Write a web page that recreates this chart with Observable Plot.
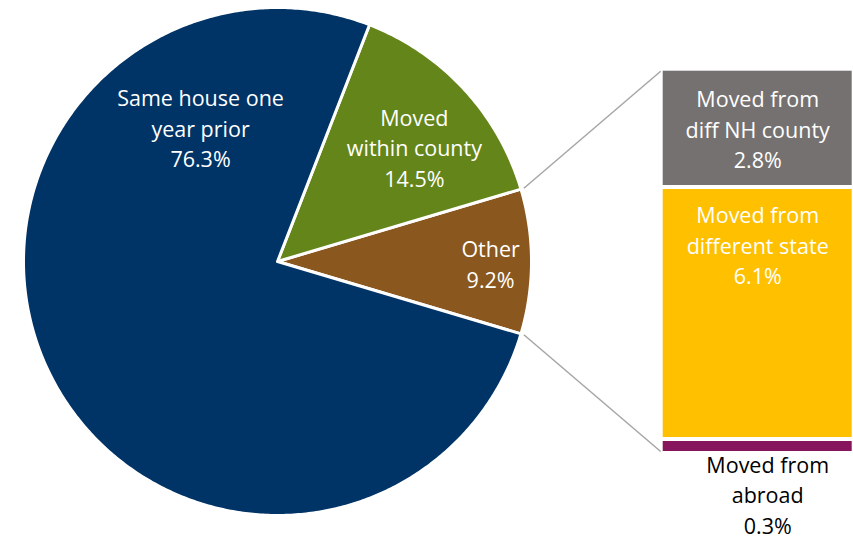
<!DOCTYPE html>
<html>
<head>
<meta charset="utf-8">
<script src="https://cdn.jsdelivr.net/npm/d3@7"></script>
<script src="https://cdn.jsdelivr.net/npm/@observablehq/plot@0.6"></script>
<style>
  html, body { margin: 0; padding: 0; background: #ffffff; }
  #chart { width: 853px; height: 536px; overflow: hidden; }
</style>
</head>
<body>
<div id="chart"></div>
<script>
// ---- Data ----
const pieCategories = ["Same house one year prior", "Moved within county", "Other"];
const pieValues = [76.3, 14.5, 9.2];
const pieLabels = ["Same house one\nyear prior\n76.3%", "Moved\nwithin county\n14.5%", "Other\n9.2%"];
const pieColors = ["#003366", "#648519", "#8A571E"];

const barCategories = ["Moved from diff NH county", "Moved from different state", "Moved from abroad"];
const barValues = [2.8, 6.1, 0.3];
const barLabels = ["Moved from\ndiff NH county\n2.8%", "Moved from\ndifferent state\n6.1%", "Moved from\nabroad\n0.3%"];
const barColors = ["#767171", "#FFC000", "#86155E"];
const barLabelColors = ["#ffffff", "#ffffff", "#000000"];

// ---- Layout (units: pie radius = 1) ----
const W = 853, H = 536;
const cx = 277, cy = 261, R = 254; // pixel centre & radius of pie
const xDomain = [-cx / R, (W - cx) / R];
const yDomain = [(cy - H) / R, cy / R];
const barX1 = (662.7 - cx) / R, barX2 = (851.7 - cx) / R;
const barTop = (cy - 70.7) / R, barBottom = (cy - 451) / R;
// label anchors for pie slices (units)
const pieLabelPos = [[-0.303, 0.530], [0.539, 0.452], [0.839, -0.005]];

// ---- Pie geometry ----
const total = d3.sum(pieValues);
const otherIdx = 2;
const half = pieValues[otherIdx] / total * Math.PI;
const order = [2, 1, 0]; // counter-clockwise from east
const slicePts = [];
let a0 = -half;
for (const i of order) {
  const span = pieValues[i] / total * 2 * Math.PI;
  const a1 = a0 + span;
  const n = Math.max(8, Math.ceil(span / 0.01));
  slicePts.push({name: pieCategories[i], color: pieColors[i], x: 0, y: 0});
  for (let k = 0; k <= n; k++) {
    const a = a0 + (a1 - a0) * k / n;
    slicePts.push({name: pieCategories[i], color: pieColors[i], x: Math.cos(a), y: Math.sin(a)});
  }
  slicePts.push({name: pieCategories[i], color: pieColors[i], x: 0, y: 0});
  a0 = a1;
}
const pieText = pieCategories.map((c, i) => ({label: pieLabels[i], x: pieLabelPos[i][0], y: pieLabelPos[i][1]}));

// ---- Bar geometry ----
const barTotal = d3.sum(barValues);
const k = (barTop - barBottom) / barTotal;
let cum = 0;
const barRows = barCategories.map((c, i) => {
  const y2 = barTop - cum * k;
  cum += barValues[i];
  const y1 = barTop - cum * k;
  return {name: c, value: barValues[i], y1, y2, color: barColors[i], label: barLabels[i], labelColor: barLabelColors[i]};
});
const separators = barRows.slice(0, -1).map(d => ({y: d.y1}));

const links = [
  {x1: 1.012 * Math.cos(half), y1: 1.012 * Math.sin(half), x2: barX1 - 0.01, y2: barTop},
  {x1: 1.012 * Math.cos(-half), y1: 1.012 * Math.sin(-half), x2: barX1 - 0.01, y2: barBottom}
];

const FS = 21.5, LH = 1.42;
const insideBar = barRows.slice(0, 2);
const belowBar = barRows.slice(2);

const chart = Plot.plot({
  width: W,
  height: H,
  margin: 0,
  x: {domain: xDomain, axis: null},
  y: {domain: yDomain, axis: null},
  color: {type: "identity"},
  style: {fontFamily: "'Open Sans', 'Noto Sans', sans-serif", background: "#ffffff"},
  marks: [
    Plot.line(slicePts, {x: "x", y: "y", z: "name", fill: "color", stroke: "#ffffff", strokeWidth: 3, strokeLinejoin: "round", curve: "linear"}),
    Plot.link(links, {x1: "x1", y1: "y1", x2: "x2", y2: "y2", stroke: "#A6A6A6", strokeWidth: 1.5}),
    Plot.rect(barRows, {x1: barX1, x2: barX2, y1: "y1", y2: "y2", fill: "color"}),
    Plot.ruleY(separators, {y: "y", x1: barX1 - 0.01, x2: barX2 + 0.01, stroke: "#ffffff", strokeWidth: 4}),
    Plot.text(pieText, {x: "x", y: "y", text: "label", fill: "#ffffff", fontSize: FS, lineHeight: LH}),
    Plot.text(insideBar, {x: (barX1 + barX2) / 2, y: "y2", text: "label", fill: "labelColor", fontSize: FS, lineHeight: LH, dy: 57}),
    Plot.text(belowBar, {x: (barX1 + barX2) / 2, y: "y1", text: "label", fill: "labelColor", fontSize: FS, lineHeight: LH, dy: 42, dx: 10})
  ]
});
document.getElementById("chart").appendChild(chart);
</script>
</body>
</html>
